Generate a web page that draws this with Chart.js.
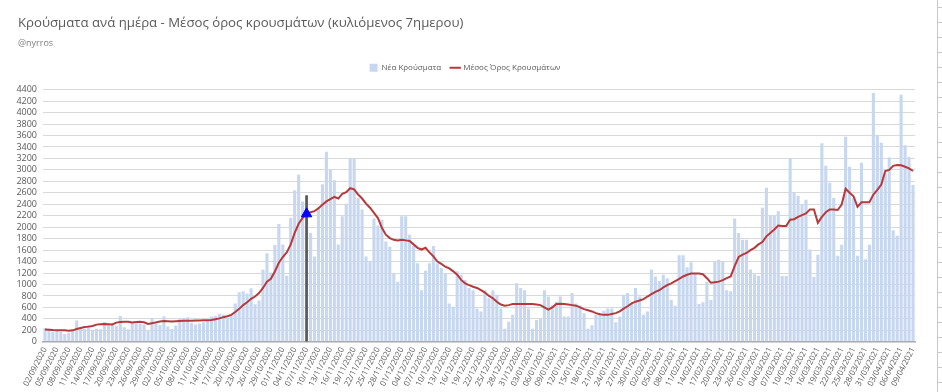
<!DOCTYPE html>
<html><head><meta charset="utf-8">
<script src="https://cdn.jsdelivr.net/npm/chart.js@4.4.1/dist/chart.umd.min.js"></script>
<style>html,body{margin:0;padding:0;background:#fff}#wrap{width:942px;height:392px;position:relative}</style>
</head><body><div id="wrap"><canvas id="c" width="942" height="392"></canvas></div>
<script>
// Categories: daily dates 02/09/2020 .. 09/04/2021
const firstDay = [2020, 8, 2];
const dayCount = 220;
const dates = [];
for (let i = 0; i < dayCount; i++) {
  const d = new Date(Date.UTC(firstDay[0], firstDay[1], firstDay[2] + i));
  const dd = String(d.getUTCDate()).padStart(2, '0');
  const mm = String(d.getUTCMonth() + 1).padStart(2, '0');
  dates.push(dd + '/' + mm + '/' + d.getUTCFullYear());
}

// New cases per day
const newCases = [
 240,230,175,190,170,135,160,205,370,250, 225,290,210,230,220,345,300,320,280,450,
 255,220,340,325,315,300,190,410,360,295, 445,265,225,285,400,410,430,330,300,320,
 340,360,440,450,490,470,420,460,667,865, 882,841,935,657,719,1259,1547,1211,1690,2056,
 1700,1151,2166,2646,2917,2448,2540,1900,1490,2340, 2750,3316,3010,2820,1700,2190,2410,3200,3200,2510,
 2310,1490,1400,2150,2030,2130,1750,1660,1200,1050, 2190,2190,1870,1670,1370,900,1240,1370,1670,1370,
 1290,1200,670,610,1230,1170,1080,940,900,580, 530,900,760,900,820,580,230,350,470,1020,
 940,900,580,230,380,410,900,790,640,700, 790,440,440,850,670,640,500,230,290,470,
 500,540,580,580,340,440,820,850,670,940, 790,470,530,1260,1140,1060,1170,1110,730,630,
 1510,1510,1300,1390,1200,660,690,1050,730,1400, 1430,1400,900,880,2150,1900,1780,1780,1260,1180,
 1150,2340,2690,2200,2200,2280,1150,1150,3200,2610, 2550,2400,2480,1610,1130,1520,3465,3070,2775,2510,
 1500,1695,3580,3055,2510,1500,3125,1440,1695,4340, 3605,3475,2940,3215,1945,1850,4311,3430,3225,2735
];

// 7-day rolling average
const avgCases = [
 216,210,205,203,200,200,195,200,222,240, 257,265,275,300,305,310,308,304,335,345,
 351,348,339,345,351,340,310,325,339,355, 362,360,356,360,365,368,368,368,370,372,
 374,377,380,395,409,430,445,470,520,575, 640,690,750,790,850,940,1050,1100,1227,1380,
 1480,1560,1700,1900,2060,2163,2233,2260,2280,2330, 2390,2450,2490,2530,2500,2580,2610,2680,2660,2570,
 2500,2410,2340,2250,2160,1990,1870,1810,1780,1770, 1780,1770,1760,1700,1640,1610,1640,1560,1490,1400,
 1360,1310,1280,1230,1170,1080,1020,990,960,940, 900,860,800,760,700,650,630,640,660,660,
 660,660,660,660,650,640,600,560,600,660, 665,660,650,640,630,600,570,550,530,500,
 480,470,470,485,500,530,580,620,670,700, 720,745,790,830,870,900,950,990,1020,1060,
 1100,1140,1170,1190,1190,1190,1180,1110,1030,1040, 1050,1075,1110,1140,1320,1480,1520,1550,1600,1640,
 1700,1740,1840,1900,1960,2030,2020,2020,2130,2140, 2180,2210,2240,2310,2310,2075,2180,2260,2310,2310,
 2300,2395,2670,2600,2540,2355,2435,2435,2435,2570, 2650,2745,2980,3000,3070,3085,3080,3055,3025,2980
];

// Marker at the lockdown date (07/11/2020)
const markerDate = '07/11/2020';
const markerLineTop = 2550;
const markerPoint = 2233;

const yMax = 4400, yStep = 200;

const markerIdx = dates.indexOf(markerDate);
const vlineData = dates.map((d, i) => i === markerIdx ? [0, markerLineTop] : null);
const triData = dates.map((d, i) => i === markerIdx ? markerPoint : null);

const fontFam = "'Open Sans', 'Noto Sans', sans-serif";

const sheetDecor = {
  id: 'sheetDecor',
  afterDraw(chart) {
    const ctx = chart.ctx;
    ctx.save();
    ctx.strokeStyle = '#c8c8c8';
    ctx.lineWidth = 1;
    ctx.beginPath();
    ctx.moveTo(937.5, 0); ctx.lineTo(937.5, 392);
    for (let y = 7.5; y < 392; y += 15) { ctx.moveTo(938, y); ctx.lineTo(942, y); }
    ctx.stroke();
    ctx.restore();
  }
};

const legendGap = {
  id: 'legendGap',
  beforeInit(chart) {
    const origFit = chart.legend.fit;
    chart.legend.fit = function () { origFit.bind(chart.legend)(); this.height += 8; };
  },
  afterLayout(chart) {
    // indent title & subtitle a little from the outer padding
    chart.boxes.forEach(b => {
      if (b.options && typeof b.options.text === 'string' && b.options.text.length && b !== chart.legend) {
        b.left += 3; b.right += 3;
      }
    });
  }
};

new Chart(document.getElementById('c'), {
  data: {
    labels: dates,
    datasets: [
      { type: 'bar', label: 'Νέα Κρούσματα', data: newCases, backgroundColor: '#c7d7f0',
        barPercentage: 0.78, categoryPercentage: 1.0, order: 4, pointStyle: 'rect', grouped: false },
      { type: 'line', label: 'Μέσος Όρος Κρουσμάτων', data: avgCases, borderColor: '#b8393b',
        backgroundColor: '#b8393b', borderWidth: 2, pointRadius: 0, tension: 0, order: 3, pointStyle: 'line' },
      { type: 'bar', label: 'lockdown', data: vlineData, backgroundColor: '#5a5a5a',
        barThickness: 2, grouped: false, order: 2 },
      { type: 'line', label: 'marker', data: triData, showLine: false, pointStyle: 'triangle',
        pointRadius: 6, pointBackgroundColor: '#0000ff', pointBorderColor: '#0000ff', order: 1 }
    ]
  },
  options: {
    responsive: false,
    animation: false,
    devicePixelRatio: 1,
    layout: { padding: { left: 15, right: 27, top: 4, bottom: 0 } },
    plugins: {
      title: { display: true, text: 'Κρούσματα ανά ημέρα - Μέσος όρος κρουσμάτων (κυλιόμενος 7ημερου)',
        align: 'start', color: '#595959', font: { family: fontFam, size: 13.2, weight: 'normal' },
        padding: { top: 11, bottom: 2 } },
      subtitle: { display: true, text: '@nyrros', align: 'start', color: '#7f7f7f',
        font: { family: fontFam, size: 9 }, padding: { top: 5, bottom: 5 } },
      legend: { display: true, position: 'top', align: 'center',
        labels: { color: '#595959', font: { family: fontFam, size: 8 }, usePointStyle: true,
          boxWidth: 9, boxHeight: 9, padding: 10,
          filter: (item) => item.datasetIndex < 2,
          sort: (a, b) => a.datasetIndex - b.datasetIndex } },
      tooltip: { enabled: false }
    },
    scales: {
      x: { type: 'category', offset: true,
        grid: { display: false, drawTicks: false },
        border: { display: true, color: '#a6a6a6', width: 1.5 },
        ticks: { autoSkip: false, minRotation: 63, maxRotation: 63, color: '#595959', padding: 4,
          font: { family: fontFam, size: 8 },
          callback: function (v, i) { return i % 3 === 0 ? this.getLabelForValue(v) : ''; } } },
      y: { min: 0, max: yMax,
        afterFit: (scale) => { scale.width = 28; },
        grid: { color: '#d9d9d9', drawTicks: false },
        border: { display: false },
        ticks: { stepSize: yStep, autoSkip: false, color: '#595959', padding: 6,
          font: { family: fontFam, size: 9 },
          callback: (v) => String(v) } }
    }
  },
  plugins: [sheetDecor, legendGap]
});
</script></body></html>
